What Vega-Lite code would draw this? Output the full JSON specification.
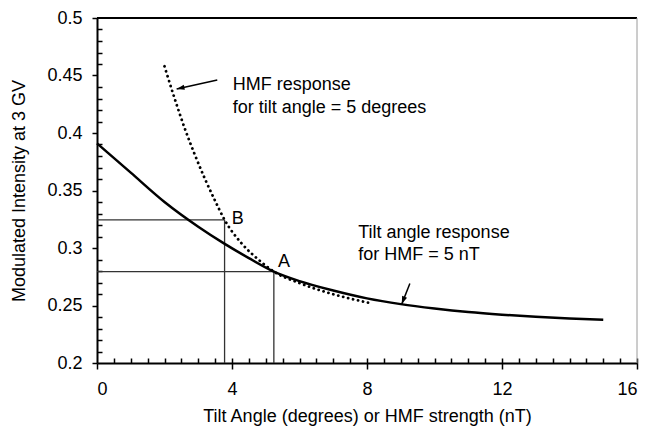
{
  "$schema": "https://vega.github.io/schema/vega-lite/v6.json",
  "width": 540,
  "height": 345,
  "autosize": {"type": "none"},
  "padding": {"left": 97, "top": 18, "right": 16, "bottom": 71},
  "background": "white",
  "config": {
    "font": "Liberation Sans",
    "view": {"stroke": null},
    "axis": {
      "grid": false,
      "domainColor": "black",
      "tickColor": "black",
      "labelColor": "black",
      "titleColor": "black",
      "labelFont": "Liberation Sans",
      "titleFont": "Liberation Sans",
      "labelFontSize": 18,
      "titleFontSize": 18,
      "titleFontWeight": "normal"
    }
  },
  "datasets": {
    "solid": [
      {"x": 0, "y": 0.391}, {"x": 1, "y": 0.3655}, {"x": 2, "y": 0.340}, {"x": 3, "y": 0.3185},
      {"x": 3.76, "y": 0.304}, {"x": 4.5, "y": 0.2912}, {"x": 5.24, "y": 0.2795}, {"x": 6.0, "y": 0.2712},
      {"x": 7.0, "y": 0.2630}, {"x": 8.0, "y": 0.2562}, {"x": 9.0, "y": 0.2512}, {"x": 10.0, "y": 0.2474},
      {"x": 11.0, "y": 0.2443}, {"x": 12.0, "y": 0.2420}, {"x": 13.0, "y": 0.2402}, {"x": 14.0, "y": 0.2388},
      {"x": 15.0, "y": 0.2377}
    ],
    "dotted": [
      {"x": 2.0, "y": 0.458}, {"x": 2.3, "y": 0.430}, {"x": 2.6, "y": 0.404}, {"x": 2.9, "y": 0.381},
      {"x": 3.2, "y": 0.360}, {"x": 3.5, "y": 0.341}, {"x": 3.78, "y": 0.3245}, {"x": 4.3, "y": 0.3035},
      {"x": 4.8, "y": 0.2895}, {"x": 5.24, "y": 0.2795}, {"x": 6.0, "y": 0.2695}, {"x": 7.0, "y": 0.2598},
      {"x": 8.03, "y": 0.2525}
    ],
    "refs": [
      {"x": 0, "x2": 3.78, "y": 0.3245, "y2": 0.3245},
      {"x": 3.78, "x2": 3.78, "y": 0.3245, "y2": 0.2},
      {"x": 0, "x2": 5.24, "y": 0.2795, "y2": 0.2795},
      {"x": 5.24, "x2": 5.24, "y": 0.2795, "y2": 0.2}
    ],
    "frame": [
      {"x": 0, "x2": 16, "y": 0.5, "y2": 0.5, "kind": "top"},
      {"x": 16, "x2": 16, "y": 0.2, "y2": 0.5, "kind": "right"}
    ],
    "labels": [
      {"x": 4.02, "y": 0.4417, "t": "HMF response"},
      {"x": 4.02, "y": 0.422, "t": "for tilt angle = 5 degrees"},
      {"x": 7.74, "y": 0.3128, "t": "Tilt angle response"},
      {"x": 7.74, "y": 0.2939, "t": "for HMF = 5 nT"},
      {"x": 3.99, "y": 0.3255, "t": "B"},
      {"x": 5.36, "y": 0.2875, "t": "A"}
    ],
    "arrows": [
      {"x": 3.564, "y": 0.4461, "x2": 2.36, "y2": 0.4383, "dir": 257.5},
      {"x": 9.27, "y": 0.2692, "x2": 9.03, "y2": 0.2512, "dir": 201}
    ]
  },
  "resolve": {"axis": {"x": "independent", "y": "independent"}},
  "layer": [
    {
      "data": {"name": "refs"},
      "mark": {"type": "rule", "color": "#333333", "strokeWidth": 1.3},
      "encoding": {
        "x": {"field": "x", "type": "quantitative", "scale": {"domain": [0, 16], "nice": false}, "axis": null},
        "x2": {"field": "x2"},
        "y": {"field": "y", "type": "quantitative", "scale": {"domain": [0.2, 0.5], "nice": false, "zero": false}, "axis": null},
        "y2": {"field": "y2"}
      }
    },
    {
      "data": {"name": "frame"},
      "mark": {"type": "rule"},
      "encoding": {
        "x": {"field": "x", "type": "quantitative", "axis": null},
        "x2": {"field": "x2"},
        "y": {"field": "y", "type": "quantitative", "axis": null},
        "y2": {"field": "y2"},
        "color": {"field": "kind", "type": "nominal", "scale": {"domain": ["top", "right"], "range": ["black", "#9a9a9a"]}, "legend": null},
        "strokeWidth": {"field": "kind", "type": "nominal", "scale": {"domain": ["top", "right"], "range": [2, 1]}, "legend": null}
      }
    },
    {
      "data": {"name": "dotted"},
      "mark": {"type": "line", "color": "black", "strokeWidth": 2.8, "strokeDash": [0.1, 5], "strokeCap": "round", "interpolate": "monotone"},
      "encoding": {
        "x": {"field": "x", "type": "quantitative",
          "axis": {"orient": "bottom", "values": [0.5,1,1.5,2,2.5,3,3.5,4,4.5,5,5.5,6,6.5,7,7.5,8,8.5,9,9.5,10,10.5,11,11.5,12,12.5,13,13.5,14,14.5,15,15.5,16],
            "tickSize": -5, "tickWidth": 1.5, "labels": false, "domain": false, "title": null}},
        "y": {"field": "y", "type": "quantitative",
          "axis": {"orient": "left", "values": [0.21,0.22,0.23,0.24,0.26,0.27,0.28,0.29,0.31,0.32,0.33,0.34,0.36,0.37,0.38,0.39,0.41,0.42,0.43,0.44,0.46,0.47,0.48,0.49],
            "tickSize": -5, "tickWidth": 1.5, "labels": false, "domain": false, "title": null}}
      }
    },
    {
      "data": {"name": "solid"},
      "mark": {"type": "line", "color": "black", "strokeWidth": 2.5, "interpolate": "monotone"},
      "encoding": {
        "x": {"field": "x", "type": "quantitative",
          "axis": {"orient": "bottom", "values": [0, 4, 8, 12, 16], "tickSize": 6, "tickWidth": 1.5, "domainWidth": 2,
            "labelPadding": 11, "title": "Tilt Angle (degrees) or HMF strength (nT)", "titlePadding": 9}},
        "y": {"field": "y", "type": "quantitative",
          "axis": {"orient": "left", "values": [0.2, 0.25, 0.3, 0.35, 0.4, 0.45, 0.5], "labelExpr": "format(datum.value, '~g')",
            "tickSize": 5, "tickWidth": 1.5, "domainWidth": 2, "labelPadding": 10,
            "title": "Modulated Intensity at 3 GV", "titlePadding": 18}}
      }
    },
    {
      "data": {"name": "arrows"},
      "mark": {"type": "rule", "color": "black", "strokeWidth": 1.5},
      "encoding": {
        "x": {"field": "x", "type": "quantitative", "axis": null},
        "x2": {"field": "x2"},
        "y": {"field": "y", "type": "quantitative", "axis": null},
        "y2": {"field": "y2"}
      }
    },
    {
      "data": {"name": "arrows"},
      "mark": {"type": "point", "filled": true, "color": "black", "opacity": 1, "size": 110, "shape": "M0,0L0.5,1.5L-0.5,1.5Z"},
      "encoding": {
        "x": {"field": "x2", "type": "quantitative", "axis": null},
        "y": {"field": "y2", "type": "quantitative", "axis": null},
        "angle": {"field": "dir", "type": "quantitative", "scale": null}
      }
    },
    {
      "data": {"name": "labels"},
      "mark": {"type": "text", "align": "left", "baseline": "middle", "fontSize": 18, "font": "Liberation Sans", "color": "black"},
      "encoding": {
        "x": {"field": "x", "type": "quantitative", "axis": null},
        "y": {"field": "y", "type": "quantitative", "axis": null},
        "text": {"field": "t"}
      }
    }
  ]
}
